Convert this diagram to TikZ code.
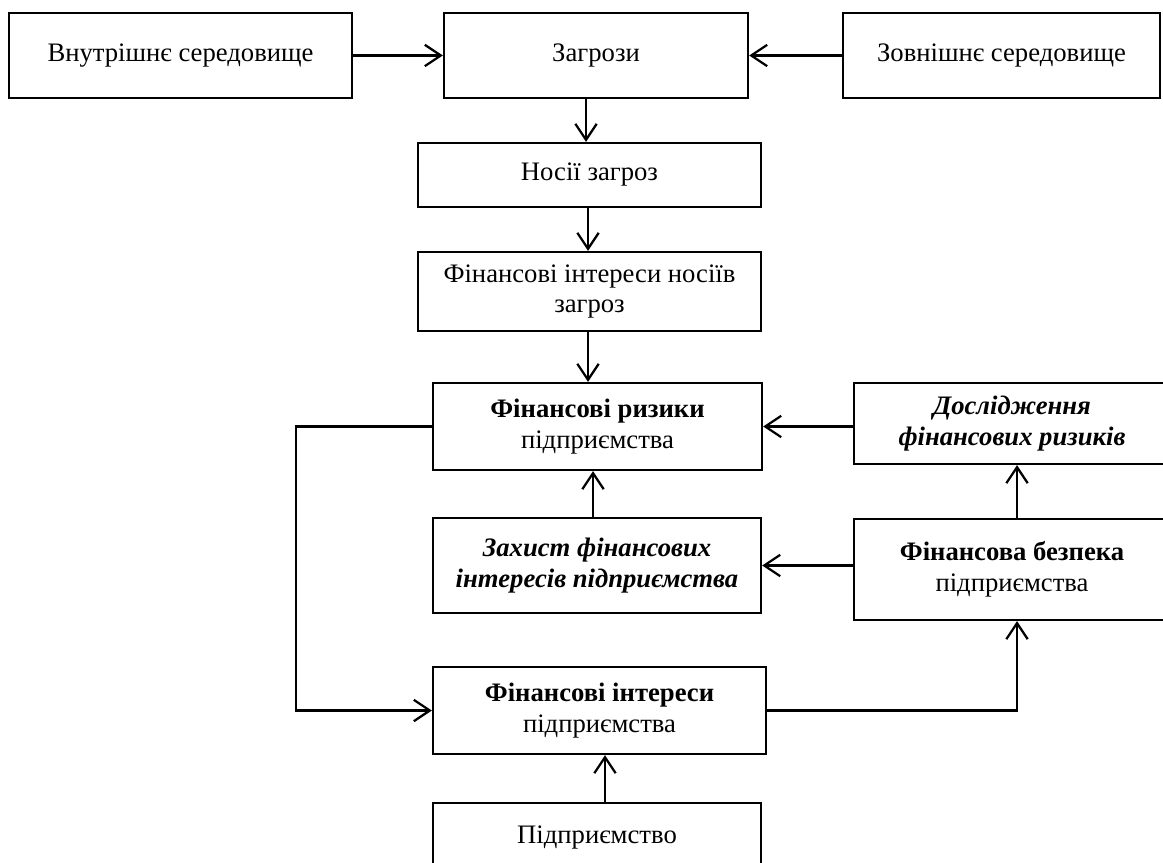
\documentclass[tikz,border=0pt]{standalone}
\usepackage{fontspec}
\setmainfont{Liberation Serif}
\usetikzlibrary{arrows.meta}
\begin{document}
\begin{tikzpicture}[x=0.75pt,y=-0.75pt,
  box/.style={draw=black,line width=1.7pt,inner sep=2pt,align=center,
    font=\fontsize{20}{23}\selectfont},
  arr/.style={draw=black,line width=1.7pt,-{Straight Barb[length=12pt,width=16pt,line width=1.7pt]}}]
\useasboundingbox (0,0) rectangle (1163,863);
\node[box,minimum width=343*0.75pt,minimum height=85*0.75pt] (vnut) at (180.5,55.5) {Внутрішнє середовище};
\node[box,minimum width=304*0.75pt,minimum height=85*0.75pt] (zagr) at (596,55.5) {Загрози};
\node[box,minimum width=317*0.75pt,minimum height=85*0.75pt] (zovn) at (1001.5,55.5) {Зовнішнє середовище};
\node[box,minimum width=343*0.75pt,minimum height=64*0.75pt] (nosii) at (589.5,175) {Носії загроз};
\node[box,minimum width=343*0.75pt,minimum height=79*0.75pt] (finnos) at (589.5,291.5) {Фінансові інтереси носіїв\\загроз};
\node[box,minimum width=329*0.75pt,minimum height=87*0.75pt] (rizyky) at (597.5,426.5) {\textbf{Фінансові ризики}\\підприємства};
\node[box,minimum width=316*0.75pt,minimum height=81*0.75pt] (doslid) at (1012,423.5) {\textbf{\textit{Дослідження}}\\\textbf{\textit{фінансових ризиків}}};
\node[box,minimum width=328*0.75pt,minimum height=95*0.75pt] (zakhyst) at (597,565.5) {\textbf{\textit{Захист фінансових}}\\\textbf{\textit{інтересів підприємства}}};
\node[box,minimum width=316*0.75pt,minimum height=101*0.75pt] (bezpeka) at (1012,569.5) {\textbf{Фінансова безпека}\\підприємства};
\node[box,minimum width=333*0.75pt,minimum height=87*0.75pt] (interesy) at (599.5,710.5) {\textbf{Фінансові інтереси}\\підприємства};
\node[box,minimum width=328*0.75pt,minimum height=70*0.75pt] (pidpr) at (597,838) {Підприємство};
\coordinate (a1) at (586,0);
\coordinate (a2) at (588,0);
\coordinate (a3) at (593,0);
\coordinate (a4) at (605,0);
\coordinate (a5) at (1017,0);
\coordinate (lx) at (296,0);
\draw[arr] (vnut.east) -- (zagr.west);
\draw[arr] (zovn.west) -- (zagr.east);
\draw[arr] (a1 |- zagr.south) -- (a1 |- nosii.north);
\draw[arr] (a2 |- nosii.south) -- (a2 |- finnos.north);
\draw[arr] (a2 |- finnos.south) -- (a2 |- rizyky.north);
\draw[arr] (a3 |- zakhyst.north) -- (a3 |- rizyky.south);
\draw[arr] (doslid.west |- rizyky.east) -- (rizyky.east);
\draw[arr] (bezpeka.west |- zakhyst.east) -- (zakhyst.east);
\draw[arr] (a5 |- bezpeka.north) -- (a5 |- doslid.south);
\draw[arr] (rizyky.west) -- (lx |- rizyky.west) -- (lx |- interesy.west) -- (interesy.west);
\draw[arr] (interesy.east) -- (a5 |- interesy.east) -- (a5 |- bezpeka.south);
\draw[arr] (a4 |- pidpr.north) -- (a4 |- interesy.south);
\end{tikzpicture}
\end{document}
